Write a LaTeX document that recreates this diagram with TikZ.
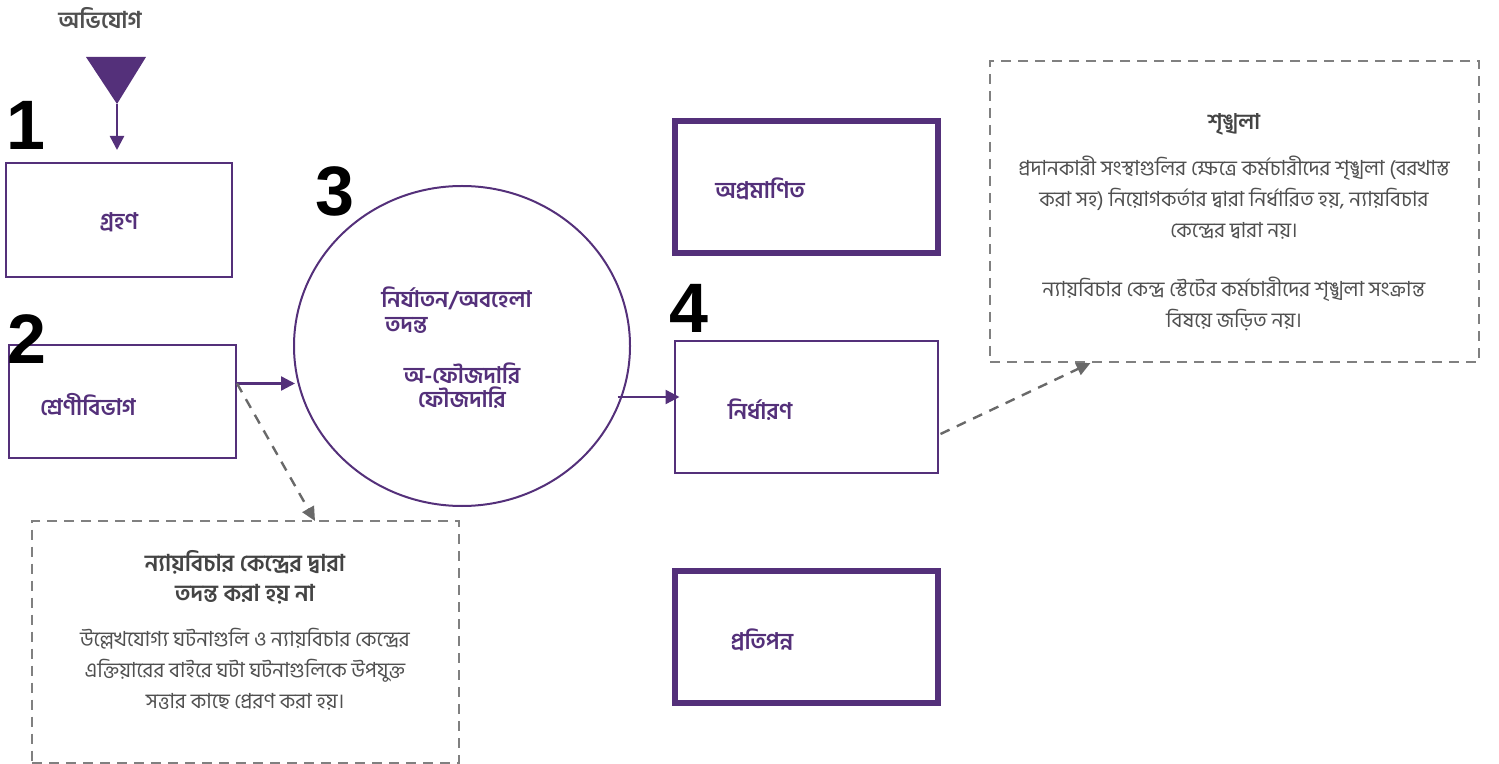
\documentclass[tikz,border=0pt]{standalone}
\usepackage{fontspec}
\usetikzlibrary{arrows.meta,shapes.geometric}
\newfontfamily\bn[Script=Bengali]{Hind Siliguri}
\newfontfamily\dig{Liberation Sans}
\definecolor{pur}{RGB}{84,48,122}
\definecolor{gtxt}{RGB}{80,80,80}
\definecolor{dgray}{RGB}{105,105,105}
\definecolor{ngray}{RGB}{128,128,128}
\tikzset{
  pbox/.style={draw=pur, line width=1pt, fill=white, inner sep=0pt},
  tbox/.style={draw=pur, line width=3pt, fill=white, inner sep=0pt},
  note/.style={draw=ngray, line width=1pt, dash pattern=on 5pt off 3.5pt, inner sep=0pt},
  plabel/.style={text=pur, font=\bn\bfseries\fontsize{11.4}{14}\selectfont, inner sep=0pt},
  num/.style={font=\dig\bfseries\fontsize{35}{35}\selectfont, inner sep=0pt},
  ntitle/.style={text=gtxt!85!black, font=\bn\bfseries\fontsize{10.8}{15}\selectfont, align=center, inner sep=0pt},
  nbody/.style={text=gtxt, font=\bn\fontsize{10.4}{15.5}\selectfont, align=center, inner sep=0pt},
  parr/.style={draw=pur, line width=1.2pt, -{Triangle[length=7pt,width=7pt]}},
  darr/.style={draw=dgray, line width=1.2pt, dash pattern=on 5pt off 4pt, -{Triangle[length=7pt,width=6.5pt]}}
}
\begin{document}
\begin{tikzpicture}[x=0.5pt,y=-0.5pt]
\useasboundingbox (0,0) rectangle (1499,764);
% intake
\node[text=gtxt, font=\bn\bfseries\fontsize{11.6}{14}\selectfont, inner sep=0pt] (comp) at (100,18) {অভিযোগ};
\coordinate (tl) at (86,57);
\coordinate (tr) at (146,57);
\coordinate (apex) at (117,104);
\fill[pur] (tl) -- (tr) -- (apex) -- cycle;
\coordinate (a1end) at (117,150);
\draw[parr] (apex) -- (a1end);
% boxes
\node[pbox, minimum width=113pt, minimum height=57pt] (b1) at (119,220) {};
\node[plabel] (t1) at (119,222) {গ্রহণ};
\node[num] (n1) at (26,125) {1};
\node[pbox, minimum width=113.5pt, minimum height=56.5pt] (b2) at (122.5,401.5) {};
\node[plabel] (t2) at (88,405) {শ্রেণীবিভাগ};
\node[num] (n2) at (27,339) {2};
% circle
\node[draw=pur, line width=1pt, ellipse, minimum width=168pt, minimum height=160pt, inner sep=0pt] (circ) at (462,346) {};
\node[num] (n3) at (335,191) {3};
\node[plabel, anchor=west, align=left, font=\bn\bfseries\fontsize{11.4}{12.5}\selectfont] (t3a) at (381,310) {নির্যাতন/অবহেলা\\\hspace*{2pt}তদন্ত};
\node[plabel, align=center, font=\bn\bfseries\fontsize{11.4}{12}\selectfont] (t3b) at (462,386) {অ-ফৌজদারি\\ফৌজদারি};
% box 4
\node[pbox, minimum width=131.5pt, minimum height=66pt] (b4) at (806,407) {};
\node[plabel] (t4) at (760,410) {নির্ধারণ};
\node[num] (n4) at (689,308) {4};
% outcomes
\node[tbox, minimum width=131.5pt, minimum height=66pt] (b5) at (806.5,187) {};
\node[plabel] (t5) at (760,189) {অপ্রমাণিত};
\node[tbox, minimum width=131.5pt, minimum height=66pt] (b6) at (806.5,637) {};
\node[plabel] (t6) at (762,640) {প্রতিপন্ন};
% notes
\node[note, minimum width=244.5pt, minimum height=150.5pt] (nr) at (1234.5,211.5) {};
\node[ntitle] (nrt) at (1234,124) {শৃঙ্খলা};
\node[nbody] (nrb1) at (1234,198) {প্রদানকারী সংস্থাগুলির ক্ষেত্রে কর্মচারীদের শৃঙ্খলা (বরখাস্ত\\করা সহ) নিয়োগকর্তার দ্বারা নির্ধারিত হয়, ন্যায়বিচার\\কেন্দ্রের দ্বারা নয়।};
\node[nbody] (nrb2) at (1234,304) {ন্যায়বিচার কেন্দ্র স্টেটের কর্মচারীদের শৃঙ্খলা সংক্রান্ত\\বিষয়ে জড়িত নয়।};
\node[note, minimum width=213.5pt, minimum height=121pt] (nl) at (245.5,641.5) {};
\node[ntitle, font=\bn\bfseries\fontsize{11.6}{15}\selectfont] (nlt) at (245,577) {ন্যায়বিচার কেন্দ্রের দ্বারা\\তদন্ত করা হয় না};
\node[nbody] (nlb) at (245,669) {উল্লেখযোগ্য ঘটনাগুলি ও ন্যায়বিচার কেন্দ্রের\\এক্তিয়ারের বাইরে ঘটা ঘটনাগুলিকে উপযুক্ত\\সত্তার কাছে প্রেরণ করা হয়।};
% connectors
\coordinate (dl) at (315,521);
\draw[parr] ([yshift=9pt]b2.east) -- ++(58,0);
\draw[parr] ([yshift=5pt,xshift=-28pt]b4.west) -- ([yshift=5pt,xshift=3pt]b4.west);
\draw[darr] ([yshift=9pt]b2.east) -- (dl);
\draw[darr] ([xshift=1pt,yshift=-13.5pt]b4.east) -- ([xshift=-72pt]nr.south);
\end{tikzpicture}
\end{document}
